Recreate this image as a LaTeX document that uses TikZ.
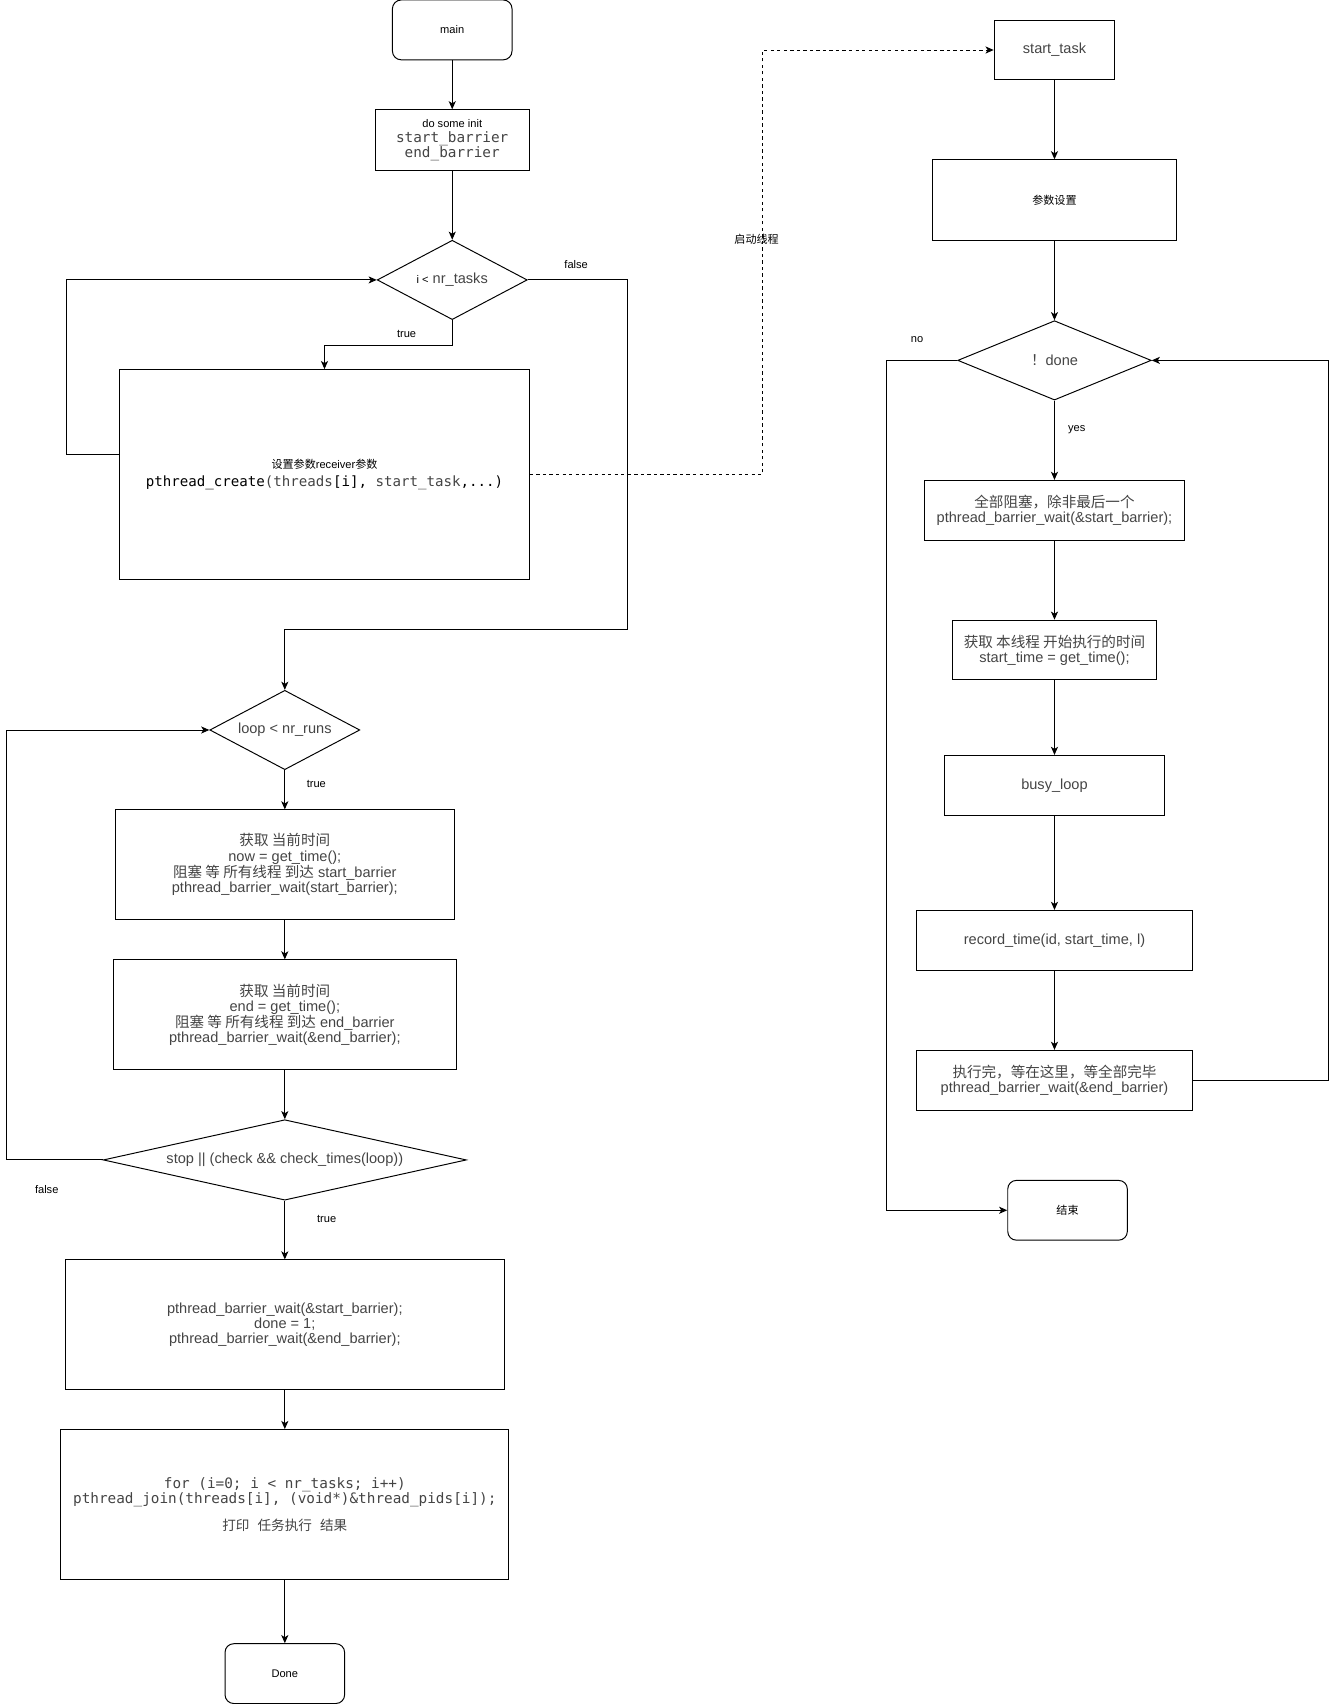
\documentclass[tikz,border=0pt]{standalone}
\usepackage{fontspec}
\setmainfont{Liberation Sans}
\setmonofont{DejaVu Sans Mono}
\newfontfamily\cjk{Noto Sans CJK SC}
\usetikzlibrary{shapes.geometric,arrows.meta}
\definecolor{txt}{HTML}{444444}
\newcommand\bigf{\fontsize{13.4}{14}\selectfont}
\newcommand\smf{\fontsize{10.2}{12}\selectfont}
\newcommand\monof{\ttfamily\fontsize{13.2}{14}\selectfont}
\tikzset{
  box/.style={draw, line width=0.9pt, inner sep=2pt, align=center, text=txt, font=\bigf},
  rbox/.style={box, rounded corners=8pt, text=black},
  dia/.style={diamond, draw, line width=0.9pt, inner sep=0pt, align=center, text=txt, font=\bigf},
  arr/.style={line width=0.9pt, -{Stealth[length=7.5pt,width=6.5pt,inset=2pt]}},
  lbl/.style={font=\smf, text=black, inner sep=1pt}
}
\begin{document}
\begin{tikzpicture}[x=1pt,y=-1pt]
\useasboundingbox (0,0) rectangle (1229,1568.4);
% ---------- left column ----------
\node[rbox,minimum width=110,minimum height=55] (main) at (416,27.5) {\smf main};
\node[box,minimum width=142,minimum height=56] (init) at (416,129)
  {{\smf\color{black}do some init}\\{\monof start\_barrier}\\{\monof end\_barrier}};
\node[dia,minimum width=138,minimum height=73,shape aspect=1.89] (d1) at (416,257.5)
  {{\smf\color{black}i <} nr\_tasks};
\node[box,minimum width=377,minimum height=193] (create) at (298.5,436.5)
  {{\smf\color{black}{\cjk 设置参数}receiver{\cjk 参数}}\\[3pt]
   {\ttfamily\fontsize{13}{14}\selectfont\color{black}pthread\_create\textcolor{txt}{(threads}[i], \textcolor{txt}{start\_task},...)}};
\node[dia,minimum width=138,minimum height=73,shape aspect=1.89] (d2) at (262,671.5) {loop < nr\_runs};
\node[box,minimum width=312,minimum height=101] (A) at (262,795.5)
  {{\cjk 获取 当前时间}\\now = get\_time();\\{\cjk 阻塞 等 所有线程 到达} start\_barrier\\ pthread\_barrier\_wait(start\_barrier);};
\node[box,minimum width=316,minimum height=101] (B) at (262,933.5)
  {{\cjk 获取 当前时间}\\end = get\_time();\\{\cjk 阻塞 等 所有线程 到达} end\_barrier\\pthread\_barrier\_wait(\&end\_barrier);};
\node[dia,minimum width=334,minimum height=74,shape aspect=4.5] (d3) at (262,1067)
  {stop || (check \&\& check\_times(loop))};
\node[box,minimum width=404,minimum height=119] (C) at (262,1218.5)
  {pthread\_barrier\_wait(\&start\_barrier);\\done = 1;\\pthread\_barrier\_wait(\&end\_barrier);};
\node[box,minimum width=412,minimum height=138] (D) at (262,1384)
  {{\monof for (i=0; i < nr\_tasks; i++)}\\{\monof pthread\_join(threads[i], (void*)\&thread\_pids[i]);}\\[11pt]
   {\cjk\fontsize{12.5}{14}\selectfont 打印\hspace{0.6em}任务执行\hspace{0.6em}结果}};
\node[rbox,minimum width=110,minimum height=55] (done) at (262,1539.5) {\smf Done};
% ---------- right column ----------
\node[box,minimum width=111,minimum height=55] (st) at (970,46) {start\_task};
\node[box,minimum width=224,minimum height=74] (ps) at (970,184) {\smf\color{black}\cjk 参数设置};
\node[dia,minimum width=178,minimum height=73,shape aspect=2.44] (d4) at (970,331.5) {{\cjk ！}done};
\node[box,minimum width=239,minimum height=55] (E) at (970,469.4)
  {{\cjk 全部阻塞，除非最后一个}\\pthread\_barrier\_wait(\&start\_barrier);};
\node[box,minimum width=187,minimum height=55] (F) at (970,598)
  {{\cjk 获取 本线程 开始执行的时间}\\start\_time = get\_time();};
\node[box,minimum width=202,minimum height=55] (busy) at (970,722.4) {busy\_loop};
\node[box,minimum width=253,minimum height=55] (rec) at (970,865) {record\_time(id, start\_time, l)};
\node[box,minimum width=253,minimum height=55] (G) at (970,993.7)
  {{\cjk 执行完，等在这里，等全部完毕}\\pthread\_barrier\_wait(\&end\_barrier)};
\node[rbox,minimum width=110,minimum height=55] (fin) at (982,1113.3) {\smf\cjk 结束};
% ---------- connectors left ----------
\draw[arr] (main) -- (init);
\draw[arr] (init) -- (d1);
\draw[arr] (d1.south) -- ++(0,23) -| (create.north);
\draw[arr] ([yshift=18.5pt]create.west) -- ++(-48,0) |- (d1.west);
\draw[arr] (d1.east) -- ++(92,0) -- ++(0,321.5) -| (d2.north);
\draw[arr,dash pattern=on 3pt off 3pt] (create.east) -- ++(214,0) |- (st.west);
\draw[arr] (d2) -- (A);
\draw[arr] (A) -- (B);
\draw[arr] (B) -- (d3);
\draw[arr] (d3.west) -- ++(-88.5,0) |- (d2.west);
\draw[arr] (d3) -- (C);
\draw[arr] (C) -- (D);
\draw[arr] (D) -- (done);
% ---------- connectors right ----------
\draw[arr] (st) -- (ps);
\draw[arr] (ps) -- (d4);
\draw[arr] (d4) -- (E);
\draw[arr] (E) -- (F);
\draw[arr] (F) -- (busy);
\draw[arr] (busy) -- (rec);
\draw[arr] (rec) -- (G);
\draw[arr] (G.east) -- ++(125,0) |- (d4.east);
\draw[arr] (d4.west) -- ++(-65.3,0) |- (fin.west);
% ---------- labels ----------
\node[lbl] (t1) at (374,307) {true};
\node[lbl] (f1) at (530,243) {false};
\node[lbl] (q1) at (696,220) {\cjk 启动线程};
\node[lbl] (t2) at (291,721) {true};
\node[lbl] (f2) at (43,1094) {false};
\node[lbl] (t3) at (300.5,1121.5) {true};
\node[lbl] (n1) at (843.6,312) {no};
\node[lbl] (y1) at (990.5,395.6) {yes};
\end{tikzpicture}
\end{document}
